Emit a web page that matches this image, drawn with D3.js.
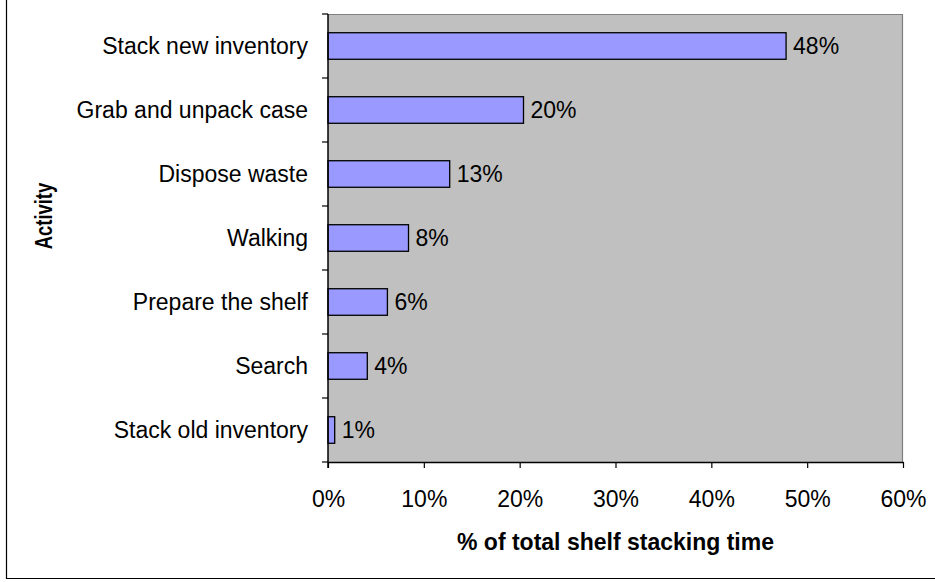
<!DOCTYPE html>
<html>
<head>
<meta charset="utf-8">
<script src="https://cdn.jsdelivr.net/npm/d3@7/dist/d3.min.js"></script>
<style>
  html, body { margin: 0; padding: 0; background: #fff; }
  svg { display: block; font-family: "Liberation Sans", Arial, sans-serif; }
</style>
</head>
<body>
<svg id="chart" width="935" height="582"></svg>
<script>
// Share of total shelf stacking time by activity
const activities = [
  "Stack new inventory",
  "Grab and unpack case",
  "Dispose waste",
  "Walking",
  "Prepare the shelf",
  "Search",
  "Stack old inventory"
];
const shares = [0.478, 0.204, 0.127, 0.084, 0.062, 0.041, 0.007];
const xTicks = [0, 0.1, 0.2, 0.3, 0.4, 0.5, 0.6];
const xTitle = "% of total shelf stacking time";
const yTitle = "Activity";

const data = activities.map((a, i) => ({ activity: a, share: shares[i] }));

const svg = d3.select("#chart");
const plot = { left: 328, right: 903, top: 14, bottom: 462 };

const x = d3.scaleLinear().domain([0, 0.6]).range([plot.left, plot.right]);
const y = d3.scaleBand()
  .domain(activities)
  .range([plot.top, plot.bottom])
  .paddingInner(0.585)
  .paddingOuter(0.2925);

const pct = d3.format(".0%");

// outer frame (left and bottom edges)
svg.append("path")
  .attr("d", "M6.5,0 V578.5 H935")
  .attr("fill", "none")
  .attr("stroke", "#000")
  .attr("stroke-width", 1.2);

// plot background
svg.append("rect")
  .attr("x", plot.left).attr("y", plot.top)
  .attr("width", plot.right - plot.left)
  .attr("height", plot.bottom - plot.top)
  .attr("fill", "#C0C0C0");

// grey border on top and right
svg.append("path")
  .attr("d", `M${plot.left},${plot.top + 0.5} H${plot.right - 0.5} V${plot.bottom}`)
  .attr("fill", "none")
  .attr("stroke", "#808080")
  .attr("stroke-width", 1.2);

// bars
svg.append("g").selectAll("rect")
  .data(data)
  .join("rect")
  .attr("x", x(0))
  .attr("y", d => y(d.activity))
  .attr("width", d => x(d.share) - x(0))
  .attr("height", y.bandwidth())
  .attr("fill", "#9999FF")
  .attr("stroke", "#000")
  .attr("stroke-width", 1.3);

// value labels
svg.append("g").selectAll("text")
  .data(data)
  .join("text")
  .attr("x", d => x(d.share) + 7)
  .attr("y", d => y(d.activity) + y.bandwidth() / 2)
  .attr("dy", "0.36em")
  .attr("font-size", 23)
  .attr("fill", "#000")
  .text(d => pct(d.share));

// x axis
const xAxis = svg.append("g")
  .attr("transform", `translate(0,${plot.bottom})`)
  .call(d3.axisBottom(x).tickValues(xTicks).tickFormat(pct).tickSize(6).tickPadding(23).tickSizeOuter(0));
xAxis.select(".domain").attr("stroke", "#000").attr("stroke-width", 1.5);
xAxis.selectAll(".tick line").attr("stroke", "#000").attr("stroke-width", 1.2);
xAxis.selectAll(".tick text")
  .attr("font-size", 23)
  .attr("font-family", "Liberation Sans, Arial, sans-serif")
  .attr("fill", "#000");

// y axis: ticks sit on the band boundaries
const yAxis = svg.append("g").attr("transform", `translate(${plot.left},0)`);
yAxis.append("line")
  .attr("x1", 0).attr("x2", 0)
  .attr("y1", plot.top).attr("y2", plot.bottom + 6)
  .attr("stroke", "#000").attr("stroke-width", 1.5);
const boundaries = d3.range(activities.length + 1).map(i => plot.top + i * y.step());
yAxis.selectAll("line.tick")
  .data(boundaries)
  .join("line")
  .attr("class", "tick")
  .attr("x1", -6).attr("x2", 0)
  .attr("y1", d => d).attr("y2", d => d)
  .attr("stroke", "#000").attr("stroke-width", 1.2);
yAxis.selectAll("text")
  .data(activities)
  .join("text")
  .attr("x", -20)
  .attr("y", d => y(d) + y.bandwidth() / 2)
  .attr("dy", "0.36em")
  .attr("text-anchor", "end")
  .attr("font-size", 23)
  .attr("fill", "#000")
  .text(d => d);

// axis titles
svg.append("text")
  .attr("x", (plot.left + plot.right) / 2)
  .attr("y", 550)
  .attr("text-anchor", "middle")
  .attr("font-size", 23)
  .attr("font-weight", "bold")
  .attr("fill", "#000")
  .text(xTitle);

// vertical title: tall glyphs, narrowed along the reading direction
svg.append("text")
  .attr("transform", "translate(52,216) rotate(-90) scale(0.8,1)")
  .attr("text-anchor", "middle")
  .attr("font-size", 23)
  .attr("font-weight", "bold")
  .attr("fill", "#000")
  .text(yTitle);
</script>
</body>
</html>
